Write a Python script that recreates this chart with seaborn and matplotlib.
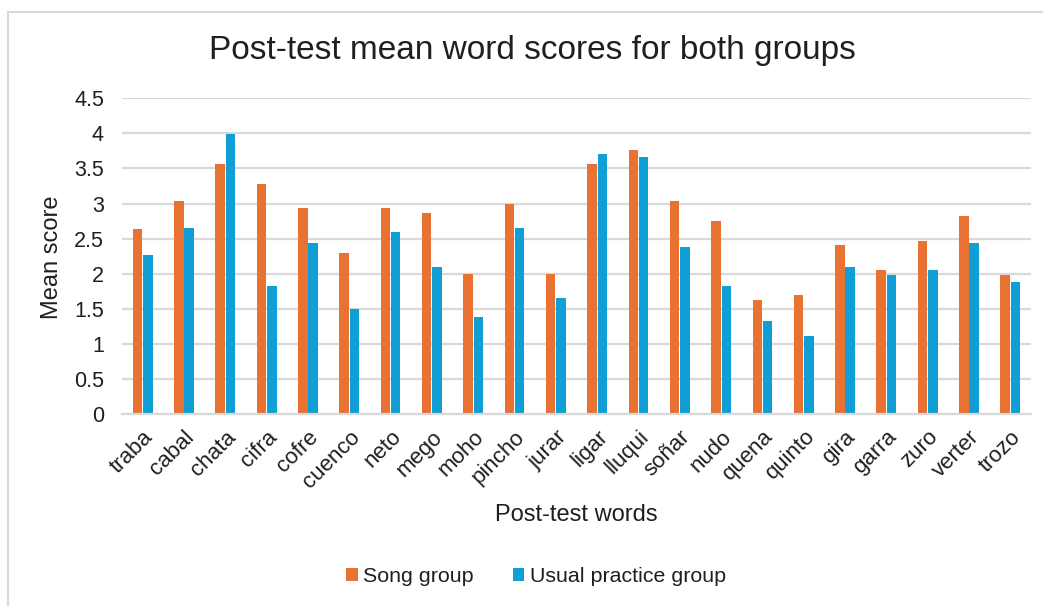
import matplotlib
matplotlib.use("Agg")
import matplotlib.pyplot as plt
from matplotlib.patches import Rectangle
import seaborn as sns
import pandas as pd

words = ["traba", "cabal", "chata", "cifra", "cofre", "cuenco", "neto", "mego",
         "moho", "pincho", "jurar", "ligar", "lluqui", "soñar", "nudo", "quena",
         "quinto", "gira", "garra", "zuro", "verter", "trozo"]
song_group = [2.63, 3.04, 3.57, 3.28, 2.94, 2.29, 2.94, 2.87,
              2.00, 2.99, 2.00, 3.57, 3.76, 3.04, 2.75, 1.63,
              1.69, 2.41, 2.05, 2.46, 2.82, 1.98]
usual_group = [2.27, 2.65, 3.99, 1.82, 2.44, 1.50, 2.60, 2.10,
               1.38, 2.65, 1.65, 3.71, 3.66, 2.38, 1.82, 1.33,
               1.11, 2.10, 1.98, 2.05, 2.44, 1.88]
groups = ["Song group", "Usual practice group"]
y_ticks = [0, 0.5, 1, 1.5, 2, 2.5, 3, 3.5, 4, 4.5]
y_tick_labels = ["0", "0.5", "1", "1.5", "2", "2.5", "3", "3.5", "4", "4.5"]

colors = {"Song group": "#E97132", "Usual practice group": "#0F9ED5"}
grid_color = "#D9D9D9"
text_color = "#1f1f1f"

df = pd.DataFrame({
    "word": words * 2,
    "score": song_group + usual_group,
    "group": [groups[0]] * len(words) + [groups[1]] * len(words),
})

sns.set_theme(style="white")
plt.rcParams["font.family"] = ["Liberation Sans", "DejaVu Sans"]

W, H = 1043, 606
fig = plt.figure(figsize=(W / 100, H / 100), dpi=100)
ax = fig.add_axes([122 / W, (H - 414) / H, 909 / W, 315.7 / H])

sns.barplot(data=df, x="word", y="score", hue="group", palette=colors,
            order=words, hue_order=groups, width=0.5, gap=0.08,
            saturation=1, linewidth=0, ax=ax, legend=False)

ax.set_ylim(0, 4.5)
ax.set_xlim(-0.5, len(words) - 0.5)
ax.set_yticks(y_ticks)
ax.set_yticklabels(y_tick_labels)
ax.yaxis.grid(True, color=grid_color, linewidth=1.6)
ax.set_axisbelow(True)
for side in ["left", "right", "top"]:
    ax.spines[side].set_visible(False)
ax.spines["bottom"].set_color(grid_color)
ax.spines["bottom"].set_linewidth(1.6)

ax.tick_params(axis="y", length=0, pad=13, labelsize=15.5, labelcolor=text_color)
ax.tick_params(axis="x", length=0, pad=9, labelsize=16, labelcolor=text_color)
for lbl in ax.get_xticklabels():
    lbl.set_rotation(45)
    lbl.set_ha("right")
    lbl.set_rotation_mode("anchor")

ax.set_xlabel("")
ax.set_ylabel("")
fig.text(576 / W, 1 - 515 / H, "Post-test words", ha="center", va="center",
         fontsize=17, color=text_color)
fig.text(52 / W, 1 - 257 / H, "Mean score", ha="center", va="center",
         rotation=90, fontsize=17, color=text_color)
fig.text(532 / W, 1 - 50 / H, "Post-test mean word scores for both groups",
         ha="center", va="center", fontsize=24, color=text_color)

handles = [Rectangle((0, 0), 1, 1, facecolor=colors[g], edgecolor="none") for g in groups]
fig.legend(handles, groups, loc="center", bbox_to_anchor=(536 / W, 1 - 577 / H),
           ncol=2, frameon=False, fontsize=15.4, handlelength=0.55, handleheight=0.55,
           handletextpad=0.25, columnspacing=1.8, labelcolor=text_color)

# chart frame
fig.patches.append(Rectangle((7.5 / W, -0.05), 1.2, 1 - 12 / H + 0.05,
                             transform=fig.transFigure, fill=False,
                             edgecolor=grid_color, linewidth=1.5))

fig.savefig("out.png", dpi=100)
